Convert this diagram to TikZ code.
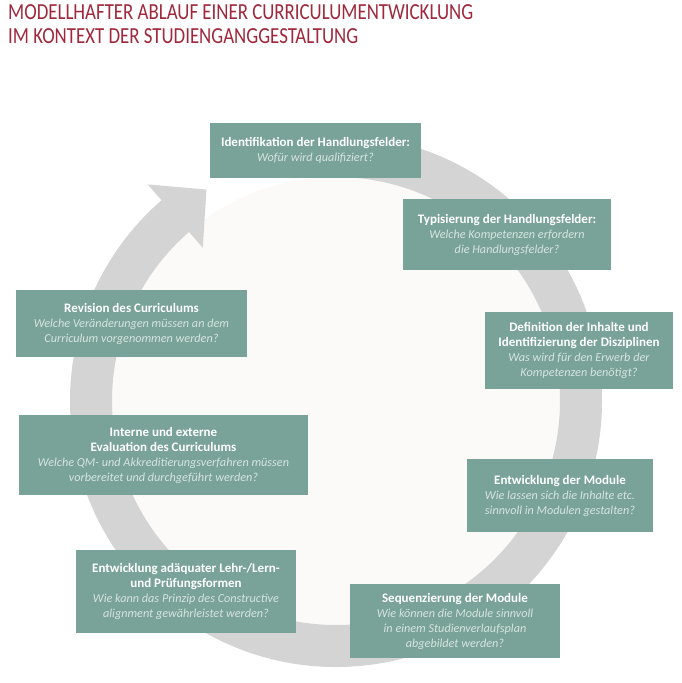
\documentclass[tikz,border=0pt]{standalone}
\usepackage{fontspec}
\setmainfont{Carlito}
\newfontfamily\titlefont[FakeStretch=0.82]{Carlito}
\usepackage{xcolor}
\usepackage{tikz}

\definecolor{titlered}{RGB}{160,40,60}
\definecolor{boxteal}{RGB}{121,162,153}
\definecolor{qtext}{RGB}{214,229,224}
\definecolor{ringgray}{RGB}{212,212,212}
\definecolor{discwhite}{RGB}{251,250,248}

\newcommand{\hd}[1]{{\fontsize{13}{15}\selectfont\bfseries #1}}
\newcommand{\qu}[1]{{\fontsize{12.2}{15}\selectfont\itshape\color{qtext}#1}}

\begin{document}
\begin{tikzpicture}[
    x=1pt, y=-1pt,
    phaseb/.style={rectangle, fill=boxteal, text=white, inner sep=3pt, align=center, font=\fontsize{13}{15}\selectfont},
    ringfill/.style={fill=ringgray, draw=none}
]
    \useasboundingbox (0,0) rectangle (681,683);
    \fill[white] (0,0) rectangle (681,683);

    % title
    \node[anchor=north west, align=left, text=titlered, inner sep=0pt,
          font=\titlefont\fontsize{23}{24}\selectfont] (title) at (8,4)
        {MODELLHAFTER ABLAUF EINER CURRICULUMENTWICKLUNG\\IM KONTEXT DER STUDIENGANGGESTALTUNG};

    % ring with arrow head
    \coordinate (c) at (336,401);
    \fill[discwhite] (c) circle[radius=224];
    \fill[ringfill] ([shift={(c)}]-92:266) arc[start angle=-92, end angle=229, radius=266]
        -- ([shift={(c)}]229:287) -- ([shift={(c)}]238.5:248) -- ([shift={(c)}]229:203)
        -- ([shift={(c)}]229:224) arc[start angle=229, end angle=-92, radius=224] -- cycle;

    % phases
    \node[phaseb, minimum width=211, minimum height=55] (ph1) at (315.5,150.5)
        {\hd{Identifikation der Handlungsfelder:}\\\qu{Wofür wird qualifiziert?}};
    \node[phaseb, minimum width=208, minimum height=71] (ph2) at (507,234.5)
        {\hd{Typisierung der Handlungsfelder:}\\\qu{Welche Kompetenzen erfordern}\\\qu{die Handlungsfelder?}};
    \node[phaseb, minimum width=188, minimum height=77] (ph3) at (579,350.5)
        {\hd{Definition der Inhalte und}\\\hd{Identifizierung der Disziplinen}\\\qu{Was wird für den Erwerb der}\\\qu{Kompetenzen benötigt?}};
    \node[phaseb, minimum width=186, minimum height=73] (ph4) at (560,495.5)
        {\hd{Entwicklung der Module}\\\qu{Wie lassen sich die Inhalte etc.}\\\qu{sinnvoll in Modulen gestalten?}};
    \node[phaseb, minimum width=210, minimum height=74] (ph5) at (455,621)
        {\hd{Sequenzierung der Module}\\\qu{Wie können die Module sinnvoll}\\\qu{in einem Studienverlaufsplan}\\\qu{abgebildet werden?}};
    \node[phaseb, minimum width=220, minimum height=83] (ph6) at (186,591.5)
        {\hd{Entwicklung adäquater Lehr-/Lern-}\\\hd{und Prüfungsformen}\\\qu{Wie kann das Prinzip des Constructive}\\\qu{alignment gewährleistet werden?}};
    \node[phaseb, minimum width=289, minimum height=80] (ph7) at (163.5,455)
        {\hd{Interne und externe}\\\hd{Evaluation des Curriculums}\\\qu{Welche QM- und Akkreditierungsverfahren müssen}\\\qu{vorbereitet und durchgeführt werden?}};
    \node[phaseb, minimum width=231, minimum height=67] (ph8) at (131.5,323.5)
        {\hd{Revision des Curriculums}\\\qu{Welche Veränderungen müssen an dem}\\\qu{Curriculum vorgenommen werden?}};
\end{tikzpicture}
\end{document}
